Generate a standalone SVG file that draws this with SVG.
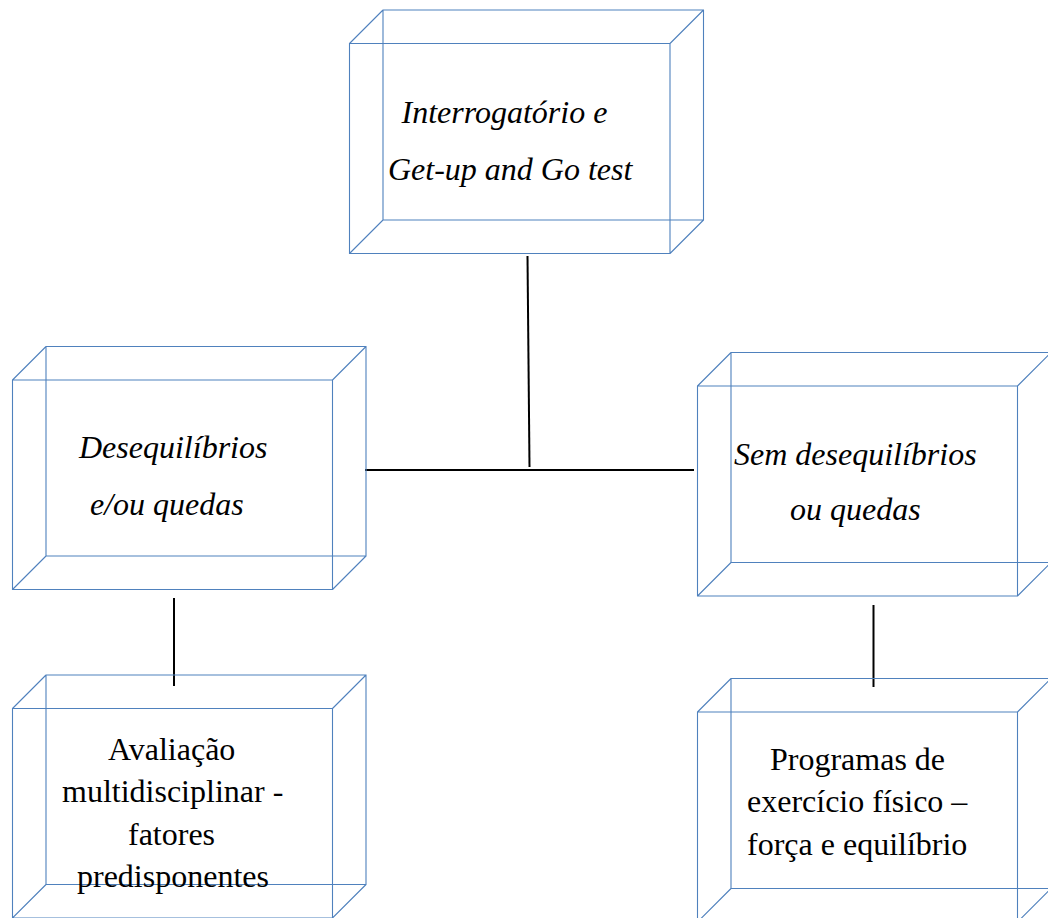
<svg xmlns="http://www.w3.org/2000/svg" width="1048" height="918" viewBox="0 0 1048 918">
<style>
.cube{fill:none;stroke:#4F81BD;stroke-width:1.1}
.conn{stroke:#000;stroke-width:2;fill:none}
.t{font-family:'Liberation Serif',serif;font-size:32px;fill:#000}
.it{font-style:italic}
</style>
<rect width="1048" height="918" fill="#fff"/>
<g id="connectors">
<line class="conn" x1="527.5" y1="256" x2="529.5" y2="467"/>
<line class="conn" x1="365" y1="470" x2="694" y2="470"/>
<line class="conn" x1="174" y1="598" x2="174" y2="686"/>
<line class="conn" x1="873.5" y1="605" x2="873.5" y2="687"/>
</g>
<g id="node-top">
<path class="cube" d="M349.5 43.5H670V253.5H349.5Z M383 10H703.5V220H383Z M349.5 43.5L383 10 M670 43.5L703.5 10 M670 253.5L703.5 220 M349.5 253.5L383 220"/>
<text class="t it" x="401.5" y="123">Interrogatório e</text>
<text class="t it" x="388" y="180">Get-up and Go test</text>
</g>
<g id="node-left">
<path class="cube" d="M12.5 380H332.5V589.5H12.5Z M46 346.5H366V556H46Z M12.5 380L46 346.5 M332.5 380L366 346.5 M332.5 589.5L366 556 M12.5 589.5L46 556"/>
<text class="t it" x="79" y="458">Desequilíbrios</text>
<text class="t it" x="90" y="515">e/ou quedas</text>
</g>
<g id="node-right">
<path class="cube" d="M697.5 386H1017.5V596H697.5Z M731 352.5H1051V562.5H731Z M697.5 386L731 352.5 M1017.5 386L1051 352.5 M1017.5 596L1051 562.5 M697.5 596L731 562.5"/>
<text class="t it" x="734" y="465">Sem desequilíbrios</text>
<text class="t it" x="790" y="520">ou quedas</text>
</g>
<g id="node-bottom-left">
<path class="cube" d="M12.5 708.5H332.5V918H12.5Z M46 675H366V884.5H46Z M12.5 708.5L46 675 M332.5 708.5L366 675 M332.5 918L366 884.5 M12.5 918L46 884.5"/>
<text class="t" x="108" y="760">Avaliação</text>
<text class="t" x="62" y="802">multidisciplinar -</text>
<text class="t" x="128" y="845">fatores</text>
<text class="t" x="77" y="887">predisponentes</text>
</g>
<g id="node-bottom-right">
<path class="cube" d="M697.5 712H1017.5V922H697.5Z M731 678.5H1051V888.5H731Z M697.5 712L731 678.5 M1017.5 712L1051 678.5 M1017.5 922L1051 888.5 M697.5 922L731 888.5"/>
<text class="t" x="770" y="770">Programas de</text>
<text class="t" x="747" y="812">exercício físico –</text>
<text class="t" x="747" y="855">força e equilíbrio</text>
</g>
</svg>
